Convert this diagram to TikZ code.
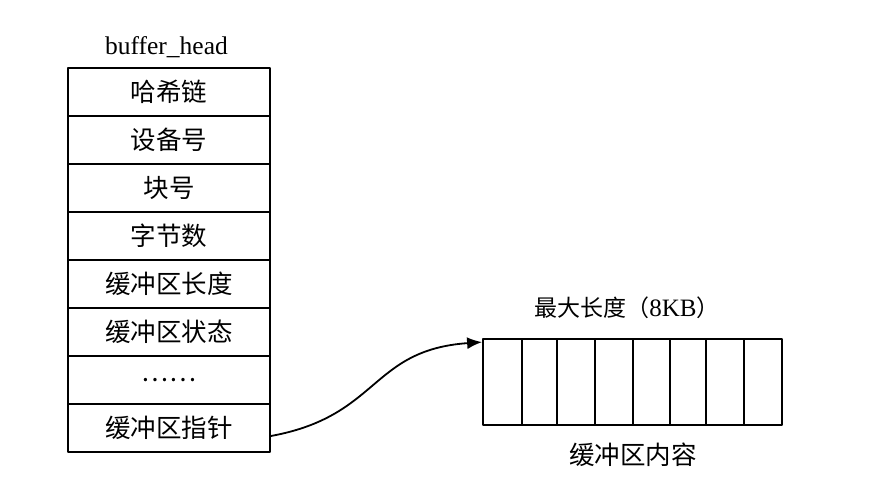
\documentclass[tikz,border=0pt]{standalone}
\usepackage{fontspec}
\setmainfont{Liberation Serif}
\newfontfamily\cjk{Noto Sans CJK SC}
\usetikzlibrary{arrows.meta}
\tikzset{
  field/.style={draw,line width=1.8bp,minimum width=202bp,minimum height=48bp,inner sep=0pt,font=\cjk\fontsize{25.5bp}{27bp}\selectfont},
  cell/.style={draw,line width=1.8bp,minimum height=86bp,inner sep=0pt},
  caption/.style={inner sep=0pt,font=\cjk\fontsize{25.5bp}{27bp}\selectfont},
}
\begin{document}
\begin{tikzpicture}[>={Latex[length=15bp,width=12bp]},line join=bevel]
  \useasboundingbox (0bp,0bp) rectangle (870bp,488bp);
  % Node: title
  \node[inner sep=0pt,font=\fontsize{25.5bp}{27bp}\selectfont] (title) at (166.5bp,441bp) {buffer\_head};
  % Node: fields of buffer_head
  \node[field] (row1) at (169bp,396bp) {哈希链};
  \node[field] (row2) at (169bp,348bp) {设备号};
  \node[field] (row3) at (169bp,300bp) {块号};
  \node[field] (row4) at (169bp,252bp) {字节数};
  \node[field] (row5) at (169bp,204bp) {缓冲区长度};
  \node[field] (row6) at (169bp,156bp) {缓冲区状态};
  \node[field] (row7) at (169bp,108bp) {……};
  \node[field] (row8) at (169bp,60bp) {缓冲区指针};
  % Node: buffer cells
  \node[cell,minimum width=39bp] (cell1) at (502.5bp,106bp) {};
  \node[cell,minimum width=35bp] (cell2) at (539.5bp,106bp) {};
  \node[cell,minimum width=38bp] (cell3) at (576bp,106bp) {};
  \node[cell,minimum width=38bp] (cell4) at (614bp,106bp) {};
  \node[cell,minimum width=37bp] (cell5) at (651.5bp,106bp) {};
  \node[cell,minimum width=36bp] (cell6) at (688bp,106bp) {};
  \node[cell,minimum width=38bp] (cell7) at (725bp,106bp) {};
  \node[cell,minimum width=38bp] (cell8) at (763bp,106bp) {};
  % Node: captions
  \node[caption,font=\cjk\fontsize{23bp}{25bp}\selectfont] (maxlen) at (627bp,180bp) {最大长度（{\rmfamily\fontsize{25bp}{27bp}\selectfont 8KB}）};
  \node[caption] (content) at (633bp,33bp) {缓冲区内容};
  % Edge: row8 -> cell1
  \draw [->,line width=1.8bp] ([yshift=-8bp]row8.east) .. controls (380bp,72bp) and (370bp,138bp) .. ([yshift=-4bp]cell1.north west);
\end{tikzpicture}
\end{document}
